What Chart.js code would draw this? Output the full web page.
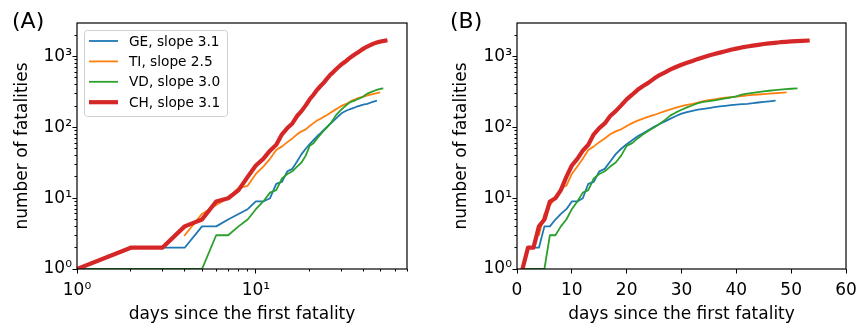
<!DOCTYPE html>
<html>
<head>
<meta charset="utf-8">
<script src="https://cdn.jsdelivr.net/npm/chart.js@4.4.1/dist/chart.umd.min.js"></script>
<style>
  body { margin: 0; background: #fff; width: 856px; height: 328px; overflow: hidden; }
  canvas { position: absolute; top: 0; }
  #chartA { left: 0; }
  #chartB { left: 428px; }
</style>
</head>
<body>
<canvas id="chartA" width="428" height="328"></canvas>
<canvas id="chartB" width="428" height="328"></canvas>
<script>
// cumulative fatalities, one value per day starting at the given day
const labels = ['GE, slope 3.1', 'TI, slope 2.5', 'VD, slope 3.0', 'CH, slope 3.1'];
const colors = ['#1f77b4', '#ff7f0e', '#2ca02c', '#d62728'];
const widths = [1.8, 1.8, 1.8, 4.2];
const startDays = [1, 4, 1, 1];

const geValues = [1, 2, 2, 2, 4, 4, 5, 6, 7, 9,
  9, 10, 16, 17, 24, 26, 33, 42, 50, 58,
  66, 75, 83, 92, 102, 112, 122, 133, 145, 157,
  165, 172, 178, 183, 188, 193, 198, 202, 206, 210,
  213, 216, 220, 225, 230, 234, 238];
const tiValues = [3, 6, 8, 10, 14, 15, 22, 28, 36, 48,
  54, 62, 70, 80, 88, 94, 105, 115, 125, 133,
  142, 150, 160, 170, 180, 190, 200, 208, 215, 225,
  235, 243, 250, 257, 263, 268, 273, 278, 283, 288,
  292, 296, 300, 304, 308, 312];
const vdValues = [1, 1, 1, 1, 1, 3, 3, 4, 5, 7,
  9, 12, 13, 19, 22, 24, 28, 32, 40, 55,
  60, 70, 80, 90, 100, 112, 128, 148, 163, 178,
  192, 206, 220, 230, 236, 242, 250, 257, 265, 275,
  290, 300, 308, 316, 323, 330, 336, 342, 347, 352, 355];
const chValues = [1, 2, 2, 4, 5, 9, 10, 13, 20, 29,
  36, 47, 57, 80, 98, 114, 145, 170, 205, 250,
  290, 340, 385, 430, 490, 550, 600, 660, 715, 770,
  820, 870, 930, 985, 1040, 1090, 1140, 1190, 1250, 1300,
  1350, 1390, 1430, 1470, 1510, 1540, 1570, 1600, 1620, 1640,
  1660, 1670, 1685];
const seriesValues = [geValues, tiValues, vdValues, chValues];

// axes
const yMajor = [1, 10, 100, 1000];
const yLimits = [1, 2990];
const xMajorA = [1, 10];
const xLimitsA = [1, 70];
const xTicksB = [0, 10, 20, 30, 40, 50, 60];
const xLimitsB = [0, 60];
const xTitle = 'days since the first fatality';
const yTitle = 'number of fatalities';

const sup = ['⁰', '¹', '²', '³', '⁴'];

const isPow10 = v => {
    const e = Math.log10(v);
    return Math.abs(e - Math.round(e)) < 1e-9;
};
const powLabel = v => isPow10(v) ? '10' + sup[Math.round(Math.log10(v))] : '';

// majors plus the 2..9 minors of each decade, kept inside the limits
const logTicks = (majors, lim) => {
    const out = [];
    majors.forEach(m => {
        for (let k = 1; k < 10; k++) {
            const v = m * k;
            if (v >= lim[0] && v <= lim[1]) out.push(v);
        }
    });
    return out;
};

const makeDatasets = () => labels.map((lab, i) => ({
    label: lab,
    data: seriesValues[i].map((v, j) => ({x: startDays[i] + j, y: v})),
    borderColor: colors[i],
    backgroundColor: colors[i],
    borderWidth: widths[i],
    pointRadius: 0,
    tension: 0,
    fill: false,
    clip: 0,
    borderJoinStyle: 'round',
    borderCapStyle: 'square',
    order: labels.length - i
}));

Chart.defaults.font.family = "'DejaVu Sans', sans-serif";
Chart.defaults.font.size = 17;
Chart.defaults.color = '#000';

const frameTicks = {
    id: 'frameTicks',
    afterDatasetsDraw(chart) {
        const {ctx, chartArea: a} = chart;
        ctx.save();
        ctx.strokeStyle = '#000';
        ctx.lineWidth = 1;
        ['x', 'y'].forEach(id => {
            const s = chart.scales[id];
            const log = s.type === 'logarithmic';
            s.ticks.forEach(t => {
                const major = !log || isPow10(t.value);
                const len = major ? 4.5 : 2.5;
                const p = Math.round(s.getPixelForValue(t.value) - 0.5) + 0.5;
                ctx.beginPath();
                if (id === 'x') {
                    ctx.moveTo(p, a.bottom);
                    ctx.lineTo(p, a.bottom + len);
                } else {
                    ctx.moveTo(a.left, p);
                    ctx.lineTo(a.left - len, p);
                }
                ctx.stroke();
            });
        });
        ctx.lineWidth = 1.2;
        ctx.strokeRect(a.left, a.top, a.right - a.left, a.bottom - a.top);
        ctx.restore();
    },
    afterDraw(chart, args, opts) {
        const ctx = chart.ctx;
        ctx.save();
        ctx.fillStyle = '#000';
        ctx.font = "22px 'DejaVu Sans'";
        ctx.textBaseline = 'alphabetic';
        ctx.fillText(opts.tag, opts.tagX, 28);
        if (opts.legend) {
            ctx.beginPath();
            ctx.roundRect(84.5, 30.5, 143, 86, 3);
            ctx.fillStyle = 'rgba(255,255,255,0.8)';
            ctx.fill();
            ctx.strokeStyle = '#d0d0d0';
            ctx.lineWidth = 1;
            ctx.stroke();
            ctx.font = "13.7px 'DejaVu Sans'";
            ctx.textBaseline = 'middle';
            chart.data.datasets.forEach((ds, i) => {
                const y = 41 + i * 20.4;
                ctx.beginPath();
                ctx.strokeStyle = ds.borderColor;
                ctx.lineWidth = ds.borderWidth;
                ctx.moveTo(89, y);
                ctx.lineTo(118, y);
                ctx.stroke();
                ctx.fillStyle = '#000';
                ctx.fillText(ds.label, 129, y + 1);
            });
        }
        ctx.restore();
    }
};

const buildChart = (elname, cfg) => {
    const ctx = document.getElementById(elname);
    new Chart(ctx, {
        type: 'line',
        data: {datasets: makeDatasets()},
        options: {
            responsive: false,
            animation: false,
            events: [],
            layout: {padding: {top: 23, right: cfg.right, left: 0, bottom: 0}},
            plugins: {
                legend: {display: false},
                tooltip: {enabled: false},
                frameTicks: {tag: cfg.tag, tagX: cfg.tagX, legend: cfg.legend}
            },
            scales: {
                x: {
                    type: cfg.xType,
                    min: cfg.xLim[0],
                    max: cfg.xLim[1],
                    grid: {display: false, drawTicks: false},
                    border: {display: false},
                    afterBuildTicks: s => { s.ticks = cfg.xTicks.map(v => ({value: v})); },
                    afterFit: s => { s.height = 59; s.paddingLeft = 0; s.paddingRight = 0; },
                    ticks: {
                        autoSkip: false, maxRotation: 0, minRotation: 0, padding: 11,
                        callback: cfg.xType === 'logarithmic' ? v => powLabel(v) : v => String(v)
                    },
                    title: {display: true, text: xTitle, padding: {top: 0, bottom: 3}}
                },
                y: {
                    type: 'logarithmic',
                    min: yLimits[0],
                    max: yLimits[1],
                    grid: {display: false, drawTicks: false},
                    border: {display: false},
                    afterBuildTicks: s => { s.ticks = logTicks(yMajor, yLimits).map(v => ({value: v})); },
                    afterFit: s => { s.width = cfg.yWidth; s.paddingTop = 0; s.paddingBottom = 0; },
                    ticks: {autoSkip: false, padding: 5, callback: v => powLabel(v)},
                    title: {display: true, text: yTitle, padding: {top: cfg.yTitlePad, bottom: 0}}
                }
            }
        },
        plugins: [frameTicks]
    });
};

buildChart('chartA', {
    xType: 'logarithmic', xLim: xLimitsA, xTicks: logTicks(xMajorA, xLimitsA),
    yWidth: 77, right: 21, yTitlePad: 12, tag: '(A)', tagX: 12, legend: true
});
buildChart('chartB', {
    xType: 'linear', xLim: xLimitsB, xTicks: xTicksB,
    yWidth: 89, right: 10, yTitlePad: 23, tag: '(B)', tagX: 22, legend: false
});
</script>
</body>
</html>
